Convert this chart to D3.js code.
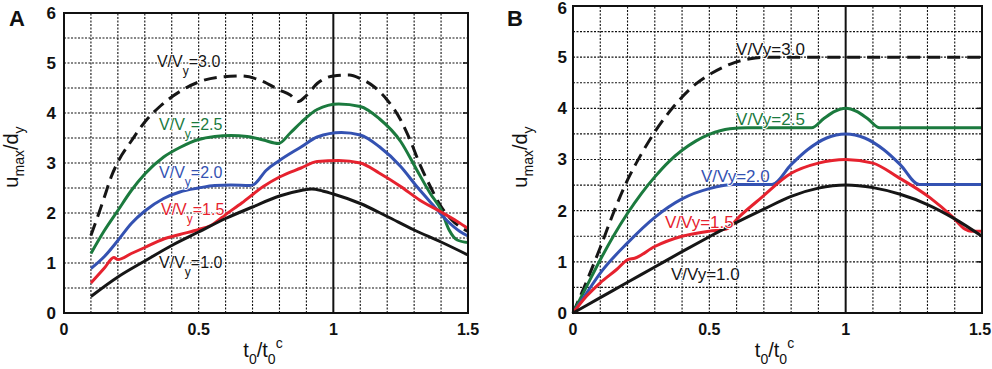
<!DOCTYPE html>
<html>
<head>
<meta charset="utf-8">
<script src="https://cdnjs.cloudflare.com/ajax/libs/d3/7.8.5/d3.min.js"></script>
<style>
  body { margin: 0; background: #fff; }
  svg { display: block; font-family: Arial, "Liberation Sans", sans-serif; }
</style>
</head>
<body>
<svg id="chart" width="992" height="369"></svg>
<script>
// axis ticks
const xTicks = [0, 0.5, 1, 1.5];
const yTicks = [0, 1, 2, 3, 4, 5, 6];
const ratioNames = ["3.0", "2.5", "2.0", "1.5", "1.0"];

// Panel A : [t0/t0c, umax/dy]
const aV30 = [[0.1,1.55],[0.12,1.85],[0.15,2.32],[0.175,2.72],[0.2,3.02],[0.25,3.44],[0.3,3.82],[0.36,4.15],[0.43,4.43],[0.5,4.62],[0.58,4.72],[0.66,4.74],[0.73,4.65],[0.8,4.46],[0.84,4.36],[0.87,4.23],[0.9,4.35],[0.94,4.59],[1.0,4.74],[1.06,4.76],[1.1,4.69],[1.15,4.53],[1.2,4.26],[1.25,3.86],[1.285,3.46],[1.32,2.99],[1.36,2.53],[1.4,2.13],[1.44,1.86],[1.5,1.63]];
const aV25 = [[0.1,1.19],[0.15,1.65],[0.2,2.05],[0.25,2.45],[0.3,2.78],[0.37,3.12],[0.43,3.31],[0.5,3.47],[0.56,3.53],[0.62,3.55],[0.68,3.53],[0.74,3.46],[0.796,3.39],[0.84,3.6],[0.88,3.81],[0.94,4.07],[1.02,4.18],[1.1,4.13],[1.17,3.89],[1.25,3.43],[1.31,2.86],[1.36,2.39],[1.4,2.06],[1.43,1.66],[1.46,1.46],[1.5,1.41]];
const aV20 = [[0.1,0.89],[0.15,1.13],[0.2,1.45],[0.25,1.79],[0.3,2.04],[0.37,2.29],[0.43,2.42],[0.5,2.5],[0.56,2.55],[0.62,2.56],[0.69,2.55],[0.705,2.57],[0.75,2.85],[0.8,3.05],[0.88,3.32],[0.94,3.52],[1.03,3.61],[1.1,3.56],[1.17,3.33],[1.25,2.93],[1.31,2.53],[1.37,2.16],[1.42,1.86],[1.47,1.63],[1.5,1.54]];
const aV15 = [[0.1,0.6],[0.15,0.9],[0.185,1.11],[0.2,1.07],[0.25,1.19],[0.3,1.31],[0.37,1.48],[0.43,1.57],[0.5,1.67],[0.545,1.75],[0.6,1.97],[0.66,2.2],[0.74,2.53],[0.8,2.72],[0.88,2.9],[0.94,3.03],[1.02,3.05],[1.1,3.0],[1.17,2.8],[1.25,2.53],[1.32,2.26],[1.4,2.02],[1.46,1.83],[1.5,1.69]];
const aV10 = [[0.1,0.33],[0.2,0.72],[0.3,1.04],[0.4,1.35],[0.5,1.62],[0.6,1.89],[0.7,2.12],[0.8,2.34],[0.88,2.45],[0.92,2.48],[0.96,2.44],[1.0,2.38],[1.1,2.19],[1.2,1.93],[1.3,1.66],[1.4,1.42],[1.5,1.16]];

// Panel B
const bV30 = [[0,0],[0.05,0.62],[0.1,1.28],[0.15,1.98],[0.2,2.6],[0.25,3.1],[0.3,3.54],[0.37,4.04],[0.44,4.43],[0.51,4.69],[0.58,4.87],[0.65,4.97],[0.72,5.0],[1.5,5.0]];
const bV25 = [[0,0],[0.05,0.52],[0.1,1.04],[0.15,1.52],[0.2,1.95],[0.25,2.33],[0.3,2.66],[0.35,2.95],[0.4,3.18],[0.45,3.36],[0.5,3.49],[0.575,3.6],[0.64,3.62],[0.875,3.62],[0.92,3.8],[0.96,3.94],[1.0,4.0],[1.04,3.94],[1.08,3.8],[1.125,3.62],[1.5,3.62]];
const bV20 = [[0,0],[0.05,0.39],[0.1,0.78],[0.2,1.37],[0.3,1.87],[0.4,2.23],[0.5,2.43],[0.59,2.51],[0.73,2.51],[0.8,2.9],[0.86,3.19],[0.93,3.42],[1.0,3.5],[1.07,3.42],[1.14,3.19],[1.2,2.9],[1.27,2.51],[1.5,2.51]];
const bV15 = [[0,0],[0.05,0.33],[0.1,0.59],[0.16,0.85],[0.2,1.04],[0.226,1.07],[0.3,1.3],[0.4,1.5],[0.5,1.6],[0.562,1.64],[0.611,1.89],[0.69,2.25],[0.8,2.73],[0.9,2.93],[1.0,3.0],[1.1,2.93],[1.19,2.66],[1.31,2.25],[1.39,1.89],[1.438,1.64],[1.46,1.6],[1.5,1.6]];
const bV10 = [[0,0],[0.1,0.3],[0.2,0.6],[0.3,0.9],[0.4,1.2],[0.5,1.49],[0.6,1.77],[0.7,2.03],[0.8,2.28],[0.9,2.44],[1.0,2.5],[1.1,2.45],[1.2,2.32],[1.3,2.12],[1.4,1.84],[1.5,1.5]];

const colors = ["#161616", "#1b7a3e", "#3452b2", "#e6222e", "#161616"];
const svg = d3.select("#chart");

const drawPanel = (opt) => {
    const x = d3.scaleLinear().domain([0, 1.5]).range([opt.left, opt.right]);
    const y = d3.scaleLinear().domain([0, 6]).range([opt.bottom, opt.top]);
    const g = svg.append("g");

    // dotted grid
    g.selectAll(".gx").data(d3.range(1, 15).filter(d => d !== 10).map(d => d / 10))
        .join("line")
        .attr("x1", d => x(d)).attr("x2", d => x(d))
        .attr("y1", y(0)).attr("y2", y(6))
        .attr("stroke", "#111").attr("stroke-width", 1.1)
        .attr("stroke-dasharray", "2,1.5");
    g.selectAll(".gy").data(d3.range(1, 12).map(d => d / 2))
        .join("line")
        .attr("x1", x(0)).attr("x2", x(1.5))
        .attr("y1", d => y(d)).attr("y2", d => y(d))
        .attr("stroke", "#111").attr("stroke-width", 1.1)
        .attr("stroke-dasharray", "2,1.5");

    // solid line at t0/t0c = 1
    g.append("line")
        .attr("x1", x(1)).attr("x2", x(1))
        .attr("y1", y(0)).attr("y2", y(6))
        .attr("stroke", "#111").attr("stroke-width", 2);

    // small ticks on the right side
    g.selectAll(".rt").data(yTicks.slice(1, -1))
        .join("line")
        .attr("x1", x(1.5) - 5).attr("x2", x(1.5))
        .attr("y1", d => y(d)).attr("y2", d => y(d))
        .attr("stroke", "#111").attr("stroke-width", 1.5);

    // curves
    const line = d3.line()
        .x(d => x(d[0]))
        .y(d => y(d[1]))
        .curve(d3.curveMonotoneX);

    opt.series.forEach((s, i) => {
        g.append("path")
            .datum(s)
            .attr("d", line)
            .attr("fill", "none")
            .attr("stroke", colors[i])
            .attr("stroke-width", 3)
            .attr("stroke-dasharray", i === 0 ? "13,7" : null);
    });

    // curve labels
    opt.labels.forEach((p, i) => {
        const t = g.append("text")
            .attr("x", x(p[0]))
            .attr("y", y(p[1]))
            .attr("fill", colors[i])
            .attr("font-size", opt.labelSize)
            .attr("stroke", "#fff").attr("stroke-width", 2)
            .attr("paint-order", "stroke")
            .attr("stroke-linejoin", "round");
        if (opt.subY) {
            t.append("tspan").text("V/V");
            t.append("tspan").attr("dy", 8).attr("font-size", opt.labelSize * 0.75).text("y");
            t.append("tspan").attr("dy", -8).text("=" + ratioNames[i]);
        } else {
            t.text("V/Vy=" + ratioNames[i]);
        }
    });

    // frame
    g.append("rect")
        .attr("x", x(0)).attr("y", y(6))
        .attr("width", x(1.5) - x(0)).attr("height", y(0) - y(6))
        .attr("fill", "none").attr("stroke", "#111").attr("stroke-width", 2);

    // tick labels
    g.selectAll(".yl").data(yTicks)
        .join("text")
        .attr("x", x(0) - opt.yLabelGap)
        .attr("y", d => Math.max(y(d), 8))
        .attr("dy", "0.35em")
        .attr("text-anchor", "end")
        .attr("font-size", 17).attr("font-weight", "bold").attr("fill", "#111")
        .text(d => d);
    g.selectAll(".xl").data(xTicks)
        .join("text")
        .attr("x", d => Math.min(x(d), 980))
        .attr("y", opt.bottom + 22)
        .attr("text-anchor", "middle")
        .attr("font-size", 16).attr("font-weight", "bold").attr("fill", "#111")
        .text(d => d);

    // y axis title
    const yt = g.append("text")
        .attr("transform", `translate(${opt.yTitleX},157) rotate(-90)`)
        .attr("text-anchor", "middle")
        .attr("font-size", 20).attr("fill", "#111");
    yt.append("tspan").text("u");
    yt.append("tspan").attr("dy", 6).attr("font-size", 14).text("max");
    yt.append("tspan").attr("dy", -6).text("/d");
    yt.append("tspan").attr("dy", 6).attr("font-size", 14).text("y");

    // x axis title
    const xt = g.append("text")
        .attr("x", (x(0) + x(1.5)) / 2 - 3)
        .attr("y", 357)
        .attr("text-anchor", "middle")
        .attr("font-size", 20).attr("fill", "#111");
    xt.append("tspan").text("t");
    xt.append("tspan").attr("dy", 7).attr("font-size", 14).text("0");
    xt.append("tspan").attr("dy", -7).text("/t");
    xt.append("tspan").attr("dy", 7).attr("font-size", 14).text("0");
    xt.append("tspan").attr("dy", -16).attr("font-size", 14).text("c");

    // panel letter
    g.append("text")
        .attr("x", opt.letterX).attr("y", 26)
        .attr("font-size", 22).attr("font-weight", "bold").attr("fill", "#111")
        .text(opt.letter);
};

drawPanel({
    left: 64, right: 468, top: 13, bottom: 313,
    series: [aV30, aV25, aV20, aV15, aV10],
    labels: [[0.345, 4.92], [0.353, 3.66], [0.353, 2.7], [0.36, 1.96], [0.353, 0.9]],
    labelSize: 16, subY: true,
    yLabelGap: 8, yTitleX: 18, letter: "A", letterX: 9
});

drawPanel({
    left: 573, right: 982, top: 6, bottom: 313,
    series: [bV30, bV25, bV20, bV15, bV10],
    labels: [[0.598, 5.04], [0.598, 3.67], [0.469, 2.56], [0.337, 1.66], [0.359, 0.645]],
    labelSize: 17, subY: false,
    yLabelGap: 6, yTitleX: 527, letter: "B", letterX: 507
});
</script>
</body>
</html>
